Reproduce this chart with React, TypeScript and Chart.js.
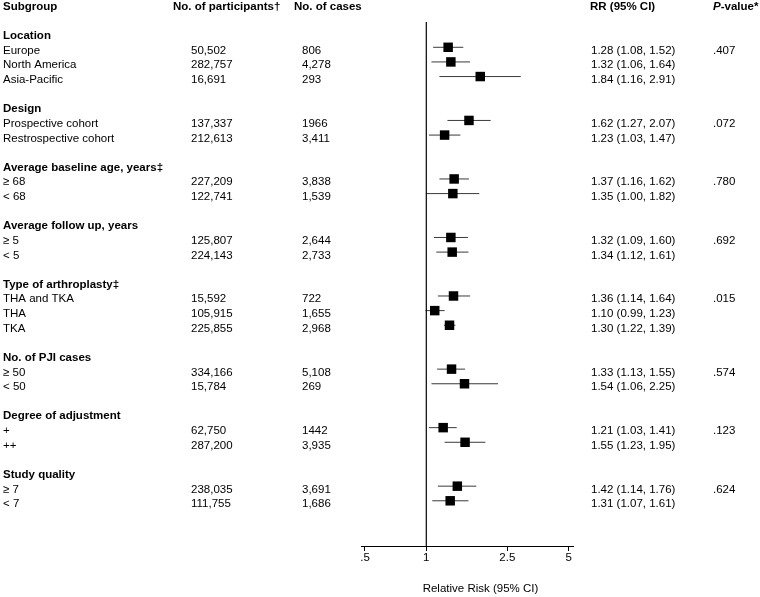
import React, { useEffect, useRef } from "react";
import { Chart, registerables } from "chart.js";

Chart.register(...registerables);

const groupTitles = [
  "Location",
  "Design",
  "Average baseline age, years‡",
  "Average follow up, years",
  "Type of arthroplasty‡",
  "No. of PJI cases",
  "Degree of adjustment",
  "Study quality",
];
const groupPValues = [".407", ".072", ".780", ".692", ".015", ".574", ".123", ".624"];

const rowLabels = [
  "Europe", "North America", "Asia-Pacific",
  "Prospective cohort", "Restrospective cohort",
  "≥ 68", "< 68",
  "≥ 5", "< 5",
  "THA and TKA", "THA", "TKA",
  "≥ 50", "< 50",
  "+", "++",
  "≥ 7", "< 7",
];
const rowGroup = [0, 0, 0, 1, 1, 2, 2, 3, 3, 4, 4, 4, 5, 5, 6, 6, 7, 7];
const participants = [
  "50,502", "282,757", "16,691", "137,337", "212,613", "227,209", "122,741",
  "125,807", "224,143", "15,592", "105,915", "225,855", "334,166", "15,784",
  "62,750", "287,200", "238,035", "111,755",
];
const cases = [
  "806", "4,278", "293", "1966", "3,411", "3,838", "1,539", "2,644", "2,733",
  "722", "1,655", "2,968", "5,108", "269", "1442", "3,935", "3,691", "1,686",
];
const rr = [1.28, 1.32, 1.84, 1.62, 1.23, 1.37, 1.35, 1.32, 1.34, 1.36, 1.1, 1.3, 1.33, 1.54, 1.21, 1.55, 1.42, 1.31];
const lower = [1.08, 1.06, 1.16, 1.27, 1.03, 1.16, 1.0, 1.09, 1.12, 1.14, 0.99, 1.22, 1.13, 1.06, 1.03, 1.23, 1.14, 1.07];
const upper = [1.52, 1.64, 2.91, 2.07, 1.47, 1.62, 1.82, 1.6, 1.61, 1.64, 1.23, 1.39, 1.55, 2.25, 1.41, 1.95, 1.76, 1.61];

const tickValues = [0.5, 1, 2.5, 5];
const tickLabels = [".5", "1", "2.5", "5"];
const xTitle = "Relative Risk (95% CI)";
const headers = ["Subgroup", "No. of participants†", "No. of cases", "RR (95% CI)"];

const fmt = (v: number) => v.toFixed(2);

export default function App() {
  const ref = useRef<HTMLCanvasElement | null>(null);

  useEffect(() => {
    document.body.style.margin = "0";
    // compute row positions: header row 0, blank row 1, groups start at 2
    const groupRow: number[] = [];
    const itemRow: number[] = [];
    let r = 2;
    groupTitles.forEach((_, g) => {
      groupRow.push(r);
      r++;
      rowLabels.forEach((_, i) => {
        if (rowGroup[i] === g) {
          itemRow[i] = r;
          r++;
        }
      });
      r++;
    });

    const FONT = '"Liberation Sans", Arial, sans-serif';
    const SIZE = 11.5;
    const TEXT_DY = 3.3;

    const textPlugin = {
      id: "forestText",
      afterDraw(chart: any) {
        const ctx = chart.ctx;
        const ys = chart.scales.y;
        const xs = chart.scales.x;
        const area = chart.chartArea;
        ctx.save();
        // reference line at RR = 1
        ctx.strokeStyle = "#000";
        ctx.lineWidth = 1.2;
        const x1 = xs.getPixelForValue(1);
        ctx.beginPath();
        ctx.moveTo(x1, area.top);
        ctx.lineTo(x1, area.bottom);
        ctx.stroke();

        ctx.fillStyle = "#000";
        ctx.textBaseline = "middle";
        ctx.textAlign = "left";
        const yOf = (row: number) => ys.getPixelForValue(row) + TEXT_DY;
        // headers
        ctx.font = `bold ${SIZE}px ${FONT}`;
        const hy = yOf(0);
        ctx.fillText(headers[0], 3, hy);
        ctx.fillText(headers[1], 173, hy);
        ctx.fillText(headers[2], 294, hy);
        ctx.fillText(headers[3], 590, hy);
        ctx.font = `italic bold ${SIZE}px ${FONT}`;
        ctx.fillText("P", 713, hy);
        const pw = ctx.measureText("P").width;
        ctx.font = `bold ${SIZE}px ${FONT}`;
        ctx.fillText("-value*", 713 + pw, hy);

        groupTitles.forEach((t, g) => {
          ctx.font = `bold ${SIZE}px ${FONT}`;
          ctx.fillText(t, 3, yOf(groupRow[g]));
          ctx.font = `${SIZE}px ${FONT}`;
          const firstItem = rowGroup.indexOf(g);
          ctx.fillText(groupPValues[g], 713, yOf(itemRow[firstItem]));
        });
        ctx.font = `${SIZE}px ${FONT}`;
        rowLabels.forEach((lab, i) => {
          const y = yOf(itemRow[i]);
          ctx.fillText(lab, 3, y);
          ctx.fillText(participants[i], 191, y);
          ctx.fillText(cases[i], 302, y);
          ctx.fillText(`${fmt(rr[i])} (${fmt(lower[i])}, ${fmt(upper[i])})`, 591, y);
        });

        // axis title
        ctx.textAlign = "center";
        ctx.font = `${SIZE}px ${FONT}`;
        ctx.fillText(xTitle, 480.5, 589);
        ctx.restore();
      },
    };

    const ciDatasets = rowLabels.map((_, i) => ({
      type: "line" as const,
      data: [
        { x: lower[i], y: itemRow[i] },
        { x: upper[i], y: itemRow[i] },
      ],
      borderColor: "#3a3a3a",
      borderWidth: 1,
      pointRadius: 0,
      showLine: true,
      fill: false,
      order: 2,
    }));

    const pointDataset = {
      type: "scatter" as const,
      data: rr.map((v, i) => ({ x: v, y: itemRow[i] })),
      pointStyle: "rect",
      pointRadius: 6.7,
      backgroundColor: "#000",
      borderColor: "#000",
      borderWidth: 0,
      order: 1,
    };

    const chart = new Chart(ref.current as HTMLCanvasElement, {
      type: "scatter",
      data: { datasets: [...ciDatasets, pointDataset] as any },
      options: {
        animation: false,
        responsive: false,
        devicePixelRatio: 1,
        layout: { padding: { left: 361, right: 187, top: 22, bottom: 0 } },
        plugins: { legend: { display: false }, tooltip: { enabled: false } },
        scales: {
          x: {
            type: "logarithmic",
            min: 0.478,
            max: 5.25,
            afterBuildTicks: (scale: any) => {
              scale.ticks = tickValues.map((v) => ({ value: v }));
            },
            afterFit: (scale: any) => {
              scale.height = 51;
            },
            ticks: {
              autoSkip: false,
              maxRotation: 0,
              padding: 0,
              color: "#000",
              font: { family: FONT, size: SIZE },
              callback: (v: any) => {
                const idx = tickValues.indexOf(Number(v));
                return idx >= 0 ? tickLabels[idx] : "";
              },
            },
            grid: {
              drawOnChartArea: false,
              drawTicks: true,
              tickLength: 5,
              color: "#000",
              lineWidth: 1,
            },
            border: { display: true, color: "#000", width: 1 },
          },
          y: {
            type: "linear",
            reverse: true,
            min: 1.271,
            max: 37.09,
            display: false,
          },
        },
      },
      plugins: [textPlugin],
    });
    return () => chart.destroy();
  }, []);

  return (
    <div style={{ position: "absolute", left: 0, top: 0, width: 760, height: 597 }}>
      <canvas ref={ref} width={760} height={597} />
    </div>
  );
}
